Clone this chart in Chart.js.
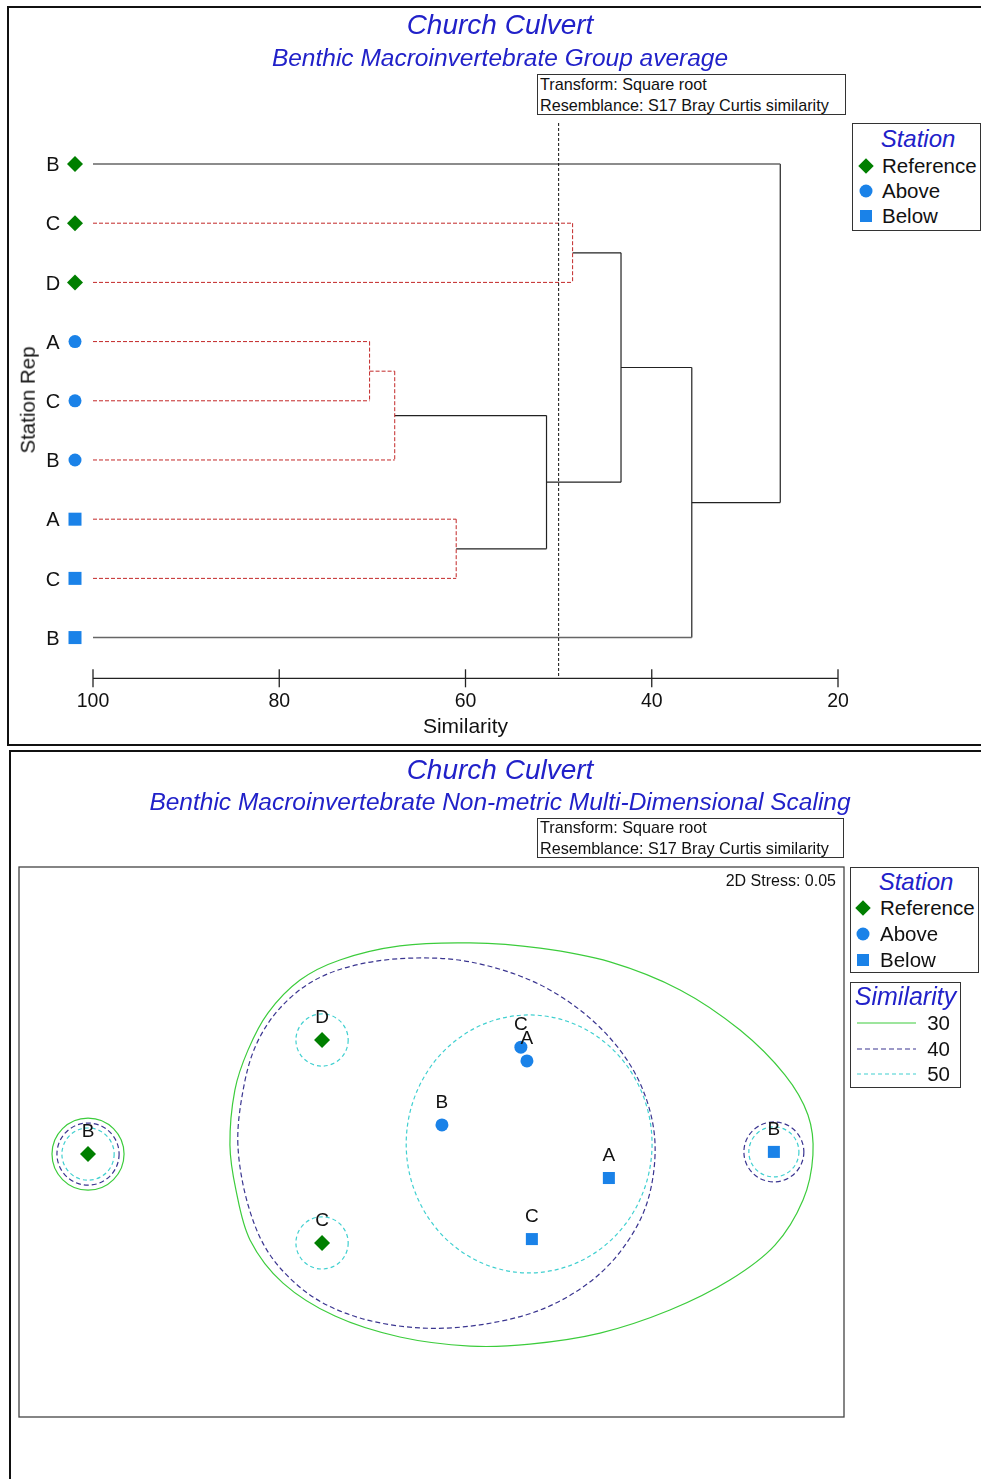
<!DOCTYPE html>
<html>
<head>
<meta charset="utf-8">
<script src="https://cdn.jsdelivr.net/npm/chart.js@4.4.0/dist/chart.umd.min.js"></script>
<style>
  body { margin: 0; width: 981px; height: 1479px; overflow: hidden; background: #fff; position: relative;
         font-family: "Liberation Sans", Arial, sans-serif; color: #111; }
  .frame { position: absolute; border: 2px solid #111; box-sizing: border-box; }
  .box { position: absolute; border: 1px solid #333; box-sizing: border-box; background: #fff; }
  .t { position: absolute; line-height: 1; white-space: nowrap; }
  .title { left: 0; width: 1000px; text-align: center; font-style: italic; color: #2121c9; }
  .blue { font-style: italic; color: #2121c9; text-align: center; }
  .mk { position: absolute; transform: translate(-50%, -50%); }
  .dia { width: 11px; height: 11px; background: #007f00; transform: translate(-50%, -50%) rotate(45deg); }
  .dot { width: 13px; height: 13px; border-radius: 50%; background: #1a82e8; }
  .sq { width: 12px; height: 12px; background: #1a82e8; }
  canvas { position: absolute; left: 0; }
</style>
</head>
<body>
<div class="frame" style="left:7px;top:6px;width:1000px;height:740px"></div>
<div class="frame" style="left:9px;top:750px;width:1000px;height:800px"></div>

<canvas id="dendro" width="981" height="745" style="top:0"></canvas>
<canvas id="mds" width="981" height="733" style="top:746px"></canvas>

<!-- верхняя панель -->
<div class="t title" style="top:11px;font-size:28px">Church Culvert</div>
<div class="t title" style="top:46px;font-size:24.5px">Benthic Macroinvertebrate Group average</div>
<div class="box" style="left:537px;top:74px;width:309px;height:41px"></div>
<div class="t" style="left:540px;top:76px;font-size:16.2px">Transform: Square root</div>
<div class="t" style="left:540px;top:97px;font-size:16.2px">Resemblance: S17 Bray Curtis similarity</div>
<div class="t" style="left:28px;top:400px;font-size:20.5px;transform:translate(-50%,-50%) rotate(-90deg)">Station Rep</div>

<div class="box" style="left:852px;top:123px;width:129px;height:108px"></div>
<div class="t blue" style="left:858px;width:120px;top:126.5px;font-size:24px">Station</div>
<div class="mk dia" style="left:866px;top:166px"></div>
<div class="mk dot" style="left:866px;top:191px"></div>
<div class="mk sq" style="left:866px;top:216px"></div>
<div class="t" style="left:882px;top:156px;font-size:20.5px">Reference</div>
<div class="t" style="left:882px;top:181px;font-size:20.5px">Above</div>
<div class="t" style="left:882px;top:206px;font-size:20.5px">Below</div>

<!-- нижняя панель -->
<div class="t title" style="top:755.5px;font-size:28px">Church Culvert</div>
<div class="t title" style="top:790px;font-size:24.5px">Benthic Macroinvertebrate Non-metric Multi-Dimensional Scaling</div>
<div class="box" style="left:537px;top:818px;width:307px;height:40px"></div>
<div class="t" style="left:540px;top:819px;font-size:16.2px">Transform: Square root</div>
<div class="t" style="left:540px;top:840px;font-size:16.2px">Resemblance: S17 Bray Curtis similarity</div>
<div class="t" style="right:145px;top:873px;font-size:16px">2D Stress: 0.05</div>

<div class="box" style="left:850px;top:867px;width:129px;height:106px"></div>
<div class="t blue" style="left:856px;width:120px;top:869.5px;font-size:24px">Station</div>
<div class="mk dia" style="left:863px;top:908px"></div>
<div class="mk dot" style="left:863px;top:934px"></div>
<div class="mk sq" style="left:863px;top:960px"></div>
<div class="t" style="left:880px;top:898px;font-size:20.5px">Reference</div>
<div class="t" style="left:880px;top:924px;font-size:20.5px">Above</div>
<div class="t" style="left:880px;top:950px;font-size:20.5px">Below</div>

<div class="box" style="left:850px;top:982px;width:111px;height:106px"></div>
<div class="t blue" style="left:850px;width:111px;top:984px;font-size:25px">Similarity</div>
<svg style="position:absolute;left:857px;top:1020px" width="60" height="60">
  <line x1="0" y1="3" x2="59" y2="3" stroke="#3ccc3c" stroke-width="1.2"/>
  <line x1="0" y1="29" x2="59" y2="29" stroke="#3a3590" stroke-width="1.2" stroke-dasharray="5,3"/>
  <line x1="0" y1="54" x2="59" y2="54" stroke="#40d0d0" stroke-width="1.2" stroke-dasharray="4,3"/>
</svg>
<div class="t" style="right:31px;top:1013px;font-size:20.5px">30</div>
<div class="t" style="right:31px;top:1039px;font-size:20.5px">40</div>
<div class="t" style="right:31px;top:1064px;font-size:20.5px">50</div>

<script>
// Дендрограмма: листья сверху вниз
const leafLabels = ['B', 'C', 'D', 'A', 'C', 'B', 'A', 'C', 'B'];
const leafStation = ['Reference', 'Reference', 'Reference', 'Above', 'Above', 'Above', 'Below', 'Below', 'Below'];
// Слияния: номера узлов (листья 0..8, новые узлы 9, 10, ...) и сходство
const mergeLeft = [3, 9, 6, 1, 10, 12, 14, 0];
const mergeRight = [4, 5, 7, 2, 11, 13, 8, 15];
const mergeSimilarity = [70.3, 67.6, 61.0, 48.5, 51.3, 43.3, 35.7, 26.2];
const mergeSignificant = [false, false, false, false, true, true, true, true];
const simTicks = [100, 80, 60, 40, 20];
const cutSimilarity = 50;

// nMDS
const mdsStation = ['Reference', 'Reference', 'Reference', 'Above', 'Above', 'Above', 'Below', 'Below', 'Below'];
const mdsRep = ['B', 'D', 'C', 'C', 'A', 'B', 'A', 'C', 'B'];
const mdsX = [-1.249, -0.398, -0.398, 0.325, 0.347, 0.038, 0.645, 0.365, 1.245];
const mdsY = [-0.044, 0.371, -0.367, 0.345, 0.295, 0.062, -0.131, -0.353, -0.036];

// Контуры сходства (30, 40, 50 %)
const similarityLevels = [30, 40, 50];
const contour30Outline = [[-0.733, -0.011], [-0.715, 0.189], [-0.667, 0.335], [-0.595, 0.469], [-0.478, 0.589],
  [-0.333, 0.662], [-0.115, 0.713], [0.140, 0.724], [0.395, 0.705], [0.649, 0.655], [0.904, 0.553], [1.122, 0.407],
  [1.285, 0.244], [1.369, 0.098], [1.387, -0.047], [1.351, -0.211], [1.249, -0.375], [1.085, -0.502],
  [0.867, -0.611], [0.613, -0.695], [0.358, -0.735], [0.140, -0.742], [-0.115, -0.709], [-0.351, -0.633],
  [-0.540, -0.513], [-0.660, -0.356], [-0.711, -0.175]];
const contour40Outline = [[-0.704, -0.011], [-0.685, 0.189], [-0.638, 0.353], [-0.551, 0.487], [-0.424, 0.589],
  [-0.260, 0.647], [-0.064, 0.669], [0.140, 0.655], [0.358, 0.589], [0.540, 0.480], [0.685, 0.335], [0.776, 0.171],
  [0.813, -0.011], [0.787, -0.211], [0.704, -0.375], [0.576, -0.509], [0.395, -0.611], [0.176, -0.665],
  [-0.042, -0.676], [-0.260, -0.640], [-0.442, -0.556], [-0.587, -0.411], [-0.667, -0.229]];
// [центр x, центр y, радиус x, радиус y]
const contour30Rings = [[-1.249, -0.044, 0.131, 0.131]];
const contour40Rings = [[-1.249, -0.044, 0.113, 0.113], [1.245, -0.036, 0.109, 0.109]];
const contour50Rings = [[0.355, -0.007, 0.447, 0.469], [-1.249, -0.044, 0.095, 0.095], [1.245, -0.036, 0.091, 0.091],
  [-0.398, 0.371, 0.095, 0.095], [-0.398, -0.367, 0.095, 0.095]];

const FONT = '"Liberation Sans", Arial, sans-serif';
const GREEN = '#007f00';
const BLUE = '#1a82e8';

function drawMarker(ctx, station, cx, cy) {
  ctx.beginPath();
  if (station === 'Reference') {
    ctx.fillStyle = GREEN;
    ctx.moveTo(cx, cy - 8); ctx.lineTo(cx + 8, cy); ctx.lineTo(cx, cy + 8); ctx.lineTo(cx - 8, cy);
    ctx.closePath();
  } else if (station === 'Above') {
    ctx.fillStyle = BLUE;
    ctx.arc(cx, cy, 6.5, 0, Math.PI * 2);
  } else {
    ctx.fillStyle = BLUE;
    ctx.rect(cx - 6.5, cy - 6.5, 13, 13);
  }
  ctx.fill();
}

// Отрезки дендрограммы
function buildDendrogram() {
  const nodeSim = leafLabels.map(() => 100);
  const nodeRow = leafLabels.map((_, i) => i + 1);
  const segs = [];
  mergeSimilarity.forEach((s, k) => {
    const a = mergeLeft[k], b = mergeRight[k];
    const red = !mergeSignificant[k];
    [a, b].forEach(c => {
      segs.push({
        pts: [{ x: nodeSim[c], y: nodeRow[c] }, { x: s, y: nodeRow[c] }],
        style: red ? 'red' : (c < leafLabels.length ? 'leaf' : 'solid')
      });
    });
    segs.push({ pts: [{ x: s, y: nodeRow[a] }, { x: s, y: nodeRow[b] }], style: red ? 'red' : 'solid' });
    nodeSim.push(s);
    nodeRow.push((nodeRow[a] + nodeRow[b]) / 2);
  });
  return segs;
}

const segStyles = {
  red: { color: 'rgb(195,40,40)', width: 1, dash: [4, 2] },
  solid: { color: '#222', width: 1.2, dash: [] },
  leaf: { color: '#666', width: 1.6, dash: [] }
};

const dendroAxis = {
  id: 'dendroAxis',
  afterDraw(chart) {
    const { ctx, scales: { x, y }, chartArea } = chart;
    const base = chartArea.bottom;
    ctx.save();
    ctx.strokeStyle = '#222';
    ctx.lineWidth = 1.3;
    ctx.beginPath(); ctx.moveTo(x.left, base); ctx.lineTo(x.right, base); ctx.stroke();
    ctx.fillStyle = '#111';
    ctx.textAlign = 'center';
    ctx.font = '19.5px ' + FONT;
    simTicks.forEach(v => {
      const px = x.getPixelForValue(v);
      ctx.beginPath(); ctx.moveTo(px, base - 9); ctx.lineTo(px, base + 9); ctx.stroke();
      ctx.fillText(String(v), px, base + 28.2);
    });
    ctx.font = '21px ' + FONT;
    ctx.fillText('Similarity', (x.left + x.right) / 2, base + 54.2);

    // линия отсечения
    const cx = x.getPixelForValue(cutSimilarity);
    ctx.strokeStyle = '#111';
    ctx.lineWidth = 1;
    ctx.setLineDash([3, 2]);
    ctx.beginPath(); ctx.moveTo(cx, 123); ctx.lineTo(cx, base); ctx.stroke();
    ctx.setLineDash([]);

    // подписи листьев
    ctx.font = '20px ' + FONT;
    leafLabels.forEach((lab, i) => {
      const py = y.getPixelForValue(i + 1);
      ctx.fillStyle = '#111';
      ctx.fillText(lab, x.left - 40, py + 7.2);
      drawMarker(ctx, leafStation[i], x.left - 18, py);
    });
    ctx.restore();
  }
};

new Chart(document.getElementById('dendro'), {
  type: 'scatter',
  data: {
    datasets: buildDendrogram().map(s => ({
      data: s.pts,
      showLine: true,
      borderColor: segStyles[s.style].color,
      borderWidth: segStyles[s.style].width,
      borderDash: segStyles[s.style].dash,
      pointRadius: 0,
      clip: false
    }))
  },
  options: {
    responsive: false,
    animation: false,
    events: [],
    layout: { padding: { left: 93, right: 143, top: 104.8, bottom: 66.7 } },
    plugins: { legend: { display: false }, tooltip: { enabled: false } },
    scales: {
      x: { type: 'linear', reverse: true, min: 20, max: 100, display: false },
      y: { type: 'linear', reverse: true, min: 0, max: 9.688, display: false }
    }
  },
  plugins: [dendroAxis]
});

// Сглаженный замкнутый контур через точки
function smoothClosed(ctx, pts) {
  const n = pts.length;
  ctx.beginPath();
  ctx.moveTo(pts[0].x, pts[0].y);
  for (let i = 0; i < n; i++) {
    const p0 = pts[(i - 1 + n) % n], p1 = pts[i], p2 = pts[(i + 1) % n], p3 = pts[(i + 2) % n];
    ctx.bezierCurveTo(p1.x + (p2.x - p0.x) / 6, p1.y + (p2.y - p0.y) / 6,
      p2.x - (p3.x - p1.x) / 6, p2.y - (p3.y - p1.y) / 6, p2.x, p2.y);
  }
  ctx.closePath();
  ctx.stroke();
}

const contourStyle = {
  30: { color: '#3ccc3c', dash: [], outlines: [contour30Outline], rings: contour30Rings },
  40: { color: '#3a3590', dash: [5, 3], outlines: [contour40Outline], rings: contour40Rings },
  50: { color: '#40d0d0', dash: [4, 3], outlines: [], rings: contour50Rings }
};

const mdsPlugin = {
  id: 'mdsExtras',
  beforeDatasetsDraw(chart) {
    const { ctx, scales: { x, y } } = chart;
    const kx = Math.abs(x.getPixelForValue(1) - x.getPixelForValue(0));
    const ky = Math.abs(y.getPixelForValue(1) - y.getPixelForValue(0));
    similarityLevels.forEach(lvl => {
      const st = contourStyle[lvl];
      ctx.save();
      ctx.strokeStyle = st.color;
      ctx.lineWidth = 1.2;
      ctx.setLineDash(st.dash);
      st.outlines.forEach(o => smoothClosed(ctx, o.map(p => ({ x: x.getPixelForValue(p[0]), y: y.getPixelForValue(p[1]) }))));
      st.rings.forEach(r => {
        ctx.beginPath();
        ctx.ellipse(x.getPixelForValue(r[0]), y.getPixelForValue(r[1]), r[2] * kx, r[3] * ky, 0, 0, Math.PI * 2);
        ctx.stroke();
      });
      ctx.restore();
    });
  },
  afterDatasetsDraw(chart) {
    const { ctx, scales: { x, y }, chartArea } = chart;
    ctx.save();
    ctx.font = '19px ' + FONT;
    ctx.fillStyle = '#111';
    ctx.textAlign = 'center';
    mdsRep.forEach((lab, i) => {
      ctx.fillText(lab, x.getPixelForValue(mdsX[i]), y.getPixelForValue(mdsY[i]) - 24 + 6.8);
    });
    ctx.strokeStyle = '#444';
    ctx.lineWidth = 1.3;
    ctx.strokeRect(chartArea.left, chartArea.top, chartArea.right - chartArea.left, chartArea.bottom - chartArea.top);
    ctx.restore();
  }
};

const stationStyle = {
  Reference: { pointStyle: 'rectRot', radius: 8, color: GREEN },
  Above: { pointStyle: 'circle', radius: 6.5, color: BLUE },
  Below: { pointStyle: 'rect', radius: 8.5, color: BLUE }
};

new Chart(document.getElementById('mds'), {
  type: 'scatter',
  data: {
    datasets: ['Reference', 'Above', 'Below'].map(st => ({
      label: st,
      data: mdsX.map((v, i) => ({ x: v, y: mdsY[i], s: mdsStation[i] })).filter(p => p.s === st),
      pointStyle: stationStyle[st].pointStyle,
      pointRadius: stationStyle[st].radius,
      backgroundColor: stationStyle[st].color,
      borderWidth: 0
    }))
  },
  options: {
    responsive: false,
    animation: false,
    events: [],
    layout: { padding: { left: 19, right: 137, top: 121, bottom: 62 } },
    plugins: { legend: { display: false }, tooltip: { enabled: false } },
    scales: {
      x: { type: 'linear', min: -1.5, max: 1.5, display: false },
      y: { type: 'linear', min: -1, max: 1, display: false }
    }
  },
  plugins: [mdsPlugin]
});
</script>
</body>
</html>
